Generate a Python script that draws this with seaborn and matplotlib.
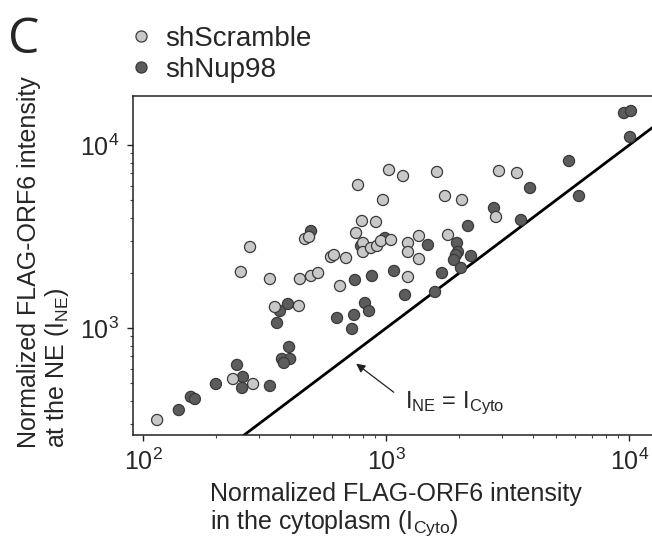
import numpy as np
import pandas as pd
import matplotlib
matplotlib.use("Agg")
import matplotlib.pyplot as plt
import seaborn as sns

# ---- data ----
scramble_x = [114, 234, 283, 252, 275, 332, 348, 437, 441, 490, 524, 463, 481, 592, 609,
              683, 645, 751, 765, 794, 802, 802, 865, 916, 951, 907, 969, 1026, 1046, 1172,
              1228, 1228, 1228, 1363, 1363, 1617, 1744, 1795, 2049, 2828, 2909, 3451]
scramble_y = [314, 526, 494, 2023, 2771, 1852, 1302, 1319, 1852, 1924, 1997, 3064, 3143, 2443, 2505,
              2413, 1696, 3305, 6045, 3843, 2914, 2602, 2736, 2806, 2988, 3795, 5006, 7303, 3026, 6768,
              2914, 2602, 1899, 3183, 2382, 7122, 5263, 3224, 5006, 4042, 7210, 7031]

nup98_x = [140, 157, 163, 199, 243, 257, 255, 332, 355, 365, 394, 398, 372, 402, 379,
           490, 627, 737, 723, 743, 817, 849, 873, 787, 988, 1076, 1194, 1484, 1587, 1695,
           1954, 1972, 1935, 1899, 2232, 2029, 2169, 2775, 3584, 3905, 5649, 6209, 9510, 10160, 10070]
nup98_y = [356, 420, 409, 494, 628, 540, 470, 482, 1065, 1238, 1352, 787, 677, 677, 644,
           3388, 1134, 1178, 988, 1829, 1369, 1238, 1924, 2806, 3103, 2049, 1515, 2842, 1573, 1997,
           2914, 2602, 2505, 2353, 2474, 2128, 3609, 4527, 3892, 5821, 8175, 5263, 14960, 15340, 11060]

groups = ["shScramble", "shNup98"]
colors = {"shScramble": "#c8c8c8", "shNup98": "#5c5c5c"}
xlim = (90.7, 12520)
ylim = (260, 18530)

df = pd.concat([
    pd.DataFrame({"x": nup98_x, "y": nup98_y, "group": "shNup98"}),
    pd.DataFrame({"x": scramble_x, "y": scramble_y, "group": "shScramble"}),
], ignore_index=True)

sns.set_style("ticks")
plt.rcParams["font.family"] = ["Liberation Sans", "DejaVu Sans"]
plt.rcParams["mathtext.fontset"] = "custom"
plt.rcParams["mathtext.rm"] = "Liberation Sans"
plt.rcParams["mathtext.it"] = "Liberation Sans:italic"
plt.rcParams["mathtext.bf"] = "Liberation Sans:bold"

W, H = 652, 544
fig = plt.figure(figsize=(W / 100, H / 100), dpi=100)
ax = fig.add_axes([133 / W, 1 - 435 / H, (653 - 133) / W, (435 - 96) / H])

sns.scatterplot(data=df, x="x", y="y", hue="group", hue_order=groups, palette=colors,
                s=64, edgecolor="#3a3a3a", linewidth=0.9, alpha=1, ax=ax, zorder=3)

ax.set_xscale("log")
ax.set_yscale("log")

# identity line I_NE = I_Cyto
lim = np.array([min(xlim[0], ylim[0]), max(xlim[1], ylim[1])])
ax.plot(lim, lim, color="black", lw=2.0, zorder=2)
ax.set_xlim(*xlim)
ax.set_ylim(*ylim)

ax.annotate("", xy=(736, 652), xytext=(1096, 436),
            arrowprops=dict(arrowstyle="-|>", color="#222222", lw=0.9, mutation_scale=13))
ax.text(1194, 389, r"I$_{\mathrm{NE}}$ = I$_{\mathrm{Cyto}}$", fontsize=17, ha="left", va="center")

for sp in ax.spines.values():
    sp.set_linewidth(1.1)
    sp.set_color("#222222")
ax.tick_params(axis="both", which="major", direction="out", length=4, width=1, labelsize=18,
               color="#222222", pad=6)
ax.tick_params(axis="both", which="minor", direction="out", length=2.5, width=0.8, color="#444444")
ax.set_xlabel("")
ax.set_ylabel("")

fig.text(210 / W, 1 - 510 / H,
         "Normalized FLAG-ORF6 intensity\nin the cytoplasm (I$_{\\mathrm{Cyto}}$)",
         fontsize=18, ha="left", va="center", multialignment="left", linespacing=1.12)
fig.text(44 / W, 1 - 262 / H,
         "Normalized FLAG-ORF6 intensity\nat the NE (I$_{\\mathrm{NE}}$)",
         fontsize=18, ha="center", va="center", rotation=90, multialignment="left", linespacing=1.08)

fig.text(8 / W, 1 - 40 / H, "C", fontsize=36, ha="left", va="center", family=["Open Sans", "DejaVu Sans"])

sns.move_legend(ax, "upper left", bbox_to_anchor=(110 / W, 1 - 12 / H),
                bbox_transform=fig.transFigure, frameon=False, title=None,
                fontsize=20, markerscale=1.0, handletextpad=0.3, labelspacing=0.18,
                borderpad=0, handlelength=1.2)

fig.savefig("out.png", dpi=100)
